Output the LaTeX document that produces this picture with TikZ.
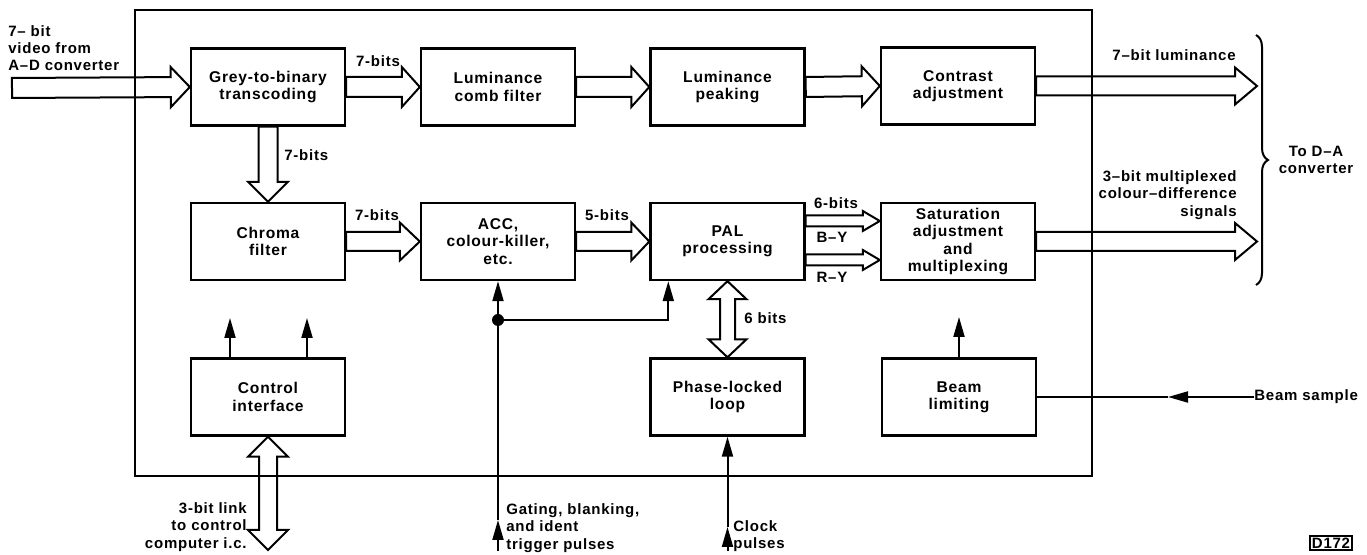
\documentclass[tikz,border=0pt]{standalone}
\usepackage{fontspec}
\setmainfont{Liberation Sans}[LetterSpace=5]
\usetikzlibrary{calc,arrows.meta,decorations.pathreplacing}

\newcommand\fatarr[5]{%
  \coordinate (fa-s) at (#1);
  \coordinate (fa-e) at (#2);
  \coordinate (fa-h) at ($(fa-e)!#5!(fa-s)$);
  \draw[fatline] ($(fa-s)!#3!90:(fa-e)$) -- ($(fa-h)!#3!-90:(fa-s)$) -- ($(fa-h)!#4!-90:(fa-s)$) -- (fa-e) -- ($(fa-h)!#4!90:(fa-s)$) -- ($(fa-h)!#3!90:(fa-s)$) -- ($(fa-s)!#3!-90:(fa-e)$) -- cycle;
}
\newcommand\fatdbl[5]{%
  \coordinate (fd-a) at (#1);
  \coordinate (fd-b) at (#2);
  \coordinate (fd-ha) at ($(fd-a)!#5!(fd-b)$);
  \coordinate (fd-hb) at ($(fd-b)!#5!(fd-a)$);
  \draw[fatline] (fd-a) -- ($(fd-ha)!#4!90:(fd-b)$) -- ($(fd-ha)!#3!90:(fd-b)$) -- ($(fd-hb)!#3!-90:(fd-a)$) -- ($(fd-hb)!#4!-90:(fd-a)$) -- (fd-b) -- ($(fd-hb)!#4!90:(fd-a)$) -- ($(fd-hb)!#3!90:(fd-a)$) -- ($(fd-ha)!#3!-90:(fd-b)$) -- ($(fd-ha)!#4!-90:(fd-b)$) -- cycle;
}

\begin{document}
\begin{tikzpicture}[x=0.5pt,y=-0.5pt,
  every node/.style={font=\fontsize{7.5}{8.6}\selectfont\bfseries},
  blk/.style={draw,line width=1.2pt,minimum width=77pt,minimum height=38.5pt,inner sep=0pt,align=center,font=\fontsize{7.8}{8.6}\selectfont\bfseries},
  lbl/.style={inner sep=0pt},
  fatline/.style={draw,line width=1pt,line join=miter},
  wire/.style={line width=1pt},
  arr/.style={-{Triangle[length=10pt,width=5.5pt]}}
]
\useasboundingbox (0,0) rectangle (1367,555);
\draw[line width=1.1pt] (135,10) rectangle (1092,476);

% blocks
\node[blk] (grey)   at (268,87)    {Grey-to-binary\\transcoding};
\node[blk] (comb)   at (498,87)    {Luminance\\comb filter};
\node[blk] (peak)   at (727.5,87)  {Luminance\\peaking};
\node[blk] (contr)  at (958,86)    {Contrast\\adjustment};
\node[blk] (chroma) at (268,241.5) {Chroma\\filter};
\node[blk] (acc)    at (498,241.5) {ACC,\\colour-killer,\\etc.};
\node[blk] (pal)    at (727.5,241.5) {PAL\\processing};
\node[blk] (sat)    at (958,241.5) {Saturation\\adjustment\\and\\multiplexing};
\node[blk] (ctrl)   at (268,397)   {Control\\interface};
\node[blk] (pll)    at (727.5,397) {Phase-locked\\loop};
\node[blk] (beam)   at (959,397)   {Beam\\limiting};

% free ends
\coordinate (in0) at (12,88);
\coordinate (o1) at (1257,86);
\coordinate (o2) at (1257,241.5);
\coordinate (lk) at (268,550);
\coordinate (g0) at (498,551);
\coordinate (g1) at (498,520);
\coordinate (jn) at (498,320);
\coordinate (k0) at (727.5,551);
\coordinate (k1) at (727.5,527);
\coordinate (c1) at (230,318);
\coordinate (c2) at (307,318);
\coordinate (bu) at (959,317);
\coordinate (bm) at (1168,397);

% fat arrows
\fatarr{in0}{grey.west}{5pt}{10pt}{9.5pt}
\fatarr{grey.east}{comb.west}{5pt}{10pt}{9pt}
\fatarr{comb.east}{peak.west}{5pt}{10pt}{9pt}
\fatarr{peak.east}{contr.west}{5pt}{10pt}{9pt}
\fatarr{contr.east}{o1}{4.75pt}{9.25pt}{11pt}
\fatarr{grey.south}{chroma.north}{4.75pt}{10pt}{10pt}
\fatarr{chroma.east}{acc.west}{4.75pt}{9.5pt}{10pt}
\fatarr{acc.east}{pal.west}{4.75pt}{9.5pt}{9pt}
\fatarr{[yshift=10.25pt]pal.east}{[yshift=10.25pt]sat.west}{2.75pt}{5pt}{8.5pt}
\fatarr{[yshift=-9.25pt]pal.east}{[yshift=-9.25pt]sat.west}{2.75pt}{5pt}{8.5pt}
\fatarr{sat.east}{o2}{4.75pt}{9.25pt}{11pt}
\fatdbl{pal.south}{pll.north}{3.75pt}{9.5pt}{9pt}
\fatdbl{ctrl.south}{lk}{4.5pt}{10pt}{10pt}

% thin connectors
\draw[wire,arr] (g0) -- (g1);
\draw[wire,arr] (g1) -- (acc.south);
\fill (jn) circle (3pt);
\draw[wire,arr] (jn) -| ([xshift=9.5pt]pal.south west);
\draw[wire,arr] (k0) -- (k1);
\draw[wire,arr] (k1) -- (pll.south);
\draw[wire,arr] (c1 |- ctrl.north) -- (c1);
\draw[wire,arr] (c2 |- ctrl.north) -- (c2);
\draw[wire,arr] (beam.north) -- (bu);
\node[lbl,anchor=west] (bs) at (1254,397) {Beam sample};
\draw[wire,arr] (bs.west) -- (bm);
\draw[wire] (bm) -- (beam.east);

% brace
\draw[line width=1pt,decorate,decoration={brace,amplitude=6pt}] (1256,35) -- (1256,285);

% labels
\node[lbl,anchor=north west,align=left] (inl) at (8,25) {7– bit\\video from\\A–D converter};
\node[lbl] (l1) at (378,61) {7-bits};
\node[lbl,anchor=west] (l2) at (284,155) {7-bits};
\node[lbl] (l3) at (377,215) {7-bits};
\node[lbl] (l4) at (607,215) {5-bits};
\node[lbl] (l5) at (836,203) {6-bits};
\node[lbl] (l6) at (832,237) {B–Y};
\node[lbl] (l7) at (832,277) {R–Y};
\node[lbl,anchor=west] (l8) at (744,318) {6 bits};
\node[lbl,anchor=east] (l9) at (1236,55) {7–bit luminance};
\node[lbl,anchor=east,align=right] (l10) at (1237,195) {3–bit multiplexed\\colour–difference\\signals};
\node[lbl,align=center] (l11) at (1316,160) {To D–A\\converter};
\node[lbl,anchor=east,align=right] (l12) at (247,527) {3-bit link\\to control\\computer i.c.};
\node[lbl,anchor=west,align=left] (l13) at (506,528) {Gating, blanking,\\and ident\\trigger pulses};
\node[lbl,anchor=west,align=left] (l14) at (733,536) {Clock\\pulses};
\node[draw,line width=0.8pt,inner sep=1pt] (fig) at (1331,543) {D172};
\end{tikzpicture}
\end{document}
